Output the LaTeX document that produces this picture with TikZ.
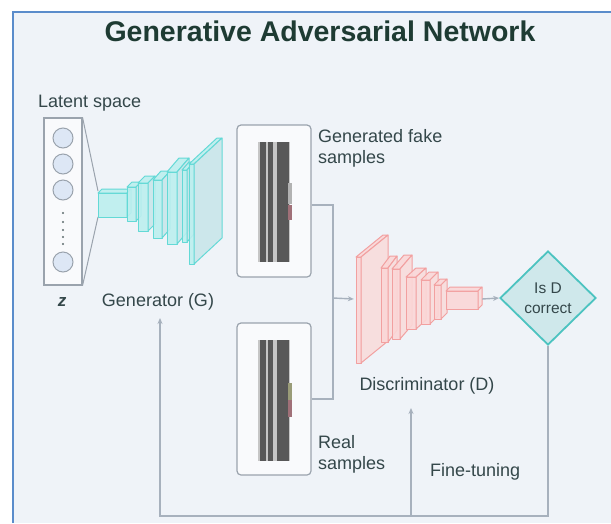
\documentclass[tikz,border=0pt]{standalone}
\usepackage{fontspec}
\setmainfont{Liberation Sans}
\usetikzlibrary{shapes.geometric,arrows.meta}

\definecolor{pagebg}{HTML}{EFF3F8}
\definecolor{frameblue}{HTML}{5A8CCB}
\definecolor{titlec}{HTML}{1E3B33}
\definecolor{labelc}{HTML}{34474A}
\definecolor{wire}{HTML}{A7B1BD}
\definecolor{boxline}{HTML}{9AA3AD}
\definecolor{nodefill}{HTML}{DDE7F5}
\definecolor{cyanline}{HTML}{63D9D6}
\definecolor{cyanfill}{HTML}{BDEFEF}
\definecolor{cyanside}{HTML}{C9E6EA}
\definecolor{pinkline}{HTML}{F2A0A0}
\definecolor{pinkfill}{HTML}{FBD7D7}
\definecolor{pinkside}{HTML}{F8DCDC}
\definecolor{decfill}{HTML}{CFE8EB}
\definecolor{decline}{HTML}{4CC3C0}
\definecolor{bardark}{HTML}{585858}
\definecolor{markpink}{HTML}{A07078}
\definecolor{markgreen}{HTML}{9A9C78}

\tikzset{
  lbl/.style={text=labelc, font=\fontsize{18}{21}\selectfont, inner sep=0pt},
  conn/.style={draw=wire, line width=1.4pt},
  arr/.style={conn, -{Stealth[length=6pt,width=5pt]}},
  sbox/.style={draw=boxline, fill=white!60!pagebg, line width=1.2pt, rounded corners=4pt, inner sep=0pt},
  gen/.style={draw=cyanline, fill=cyanfill, fill opacity=0.9, line width=1pt, line join=round},
  genside/.style={fill=cyanside},
  dis/.style={draw=pinkline, fill=pinkfill, fill opacity=0.9, line width=1pt, line join=round},
  disside/.style={fill=pinkside},
  bar/.style={fill=bardark, draw=none},
}

% one convolution layer drawn as a thin box:
% #1 x, #2 thickness, #3 height, #4 centre y, #5 depth dx, #6 depth dy, #7 style, #8 side style
\newcommand\netlayer[8]{%
  \draw[#7] (#1,{#4-#3/2}) rectangle ({#1+#2},{#4+#3/2});
  \draw[#7] (#1,{#4-#3/2}) -- ({#1+#5},{#4-#3/2-#6}) -- ({#1+#2+#5},{#4-#3/2-#6})
            -- ({#1+#2},{#4-#3/2}) -- cycle;
  \draw[#7,#8] ({#1+#2},{#4-#3/2}) -- ({#1+#2+#5},{#4-#3/2-#6})
            -- ({#1+#2+#5},{#4+#3/2-#6}) -- ({#1+#2},{#4+#3/2}) -- cycle;
}

\begin{document}
\begin{tikzpicture}[x=1pt,y=-1pt]
\useasboundingbox (0,0) rectangle (611,523);
\fill[white] (0,0) rectangle (611,523);
\fill[pagebg] (12,11) rectangle (611,523);
\draw[frameblue, line width=2pt] (12.5,523) -- (12.5,11.5) -- (611,11.5);

% title
\node[text=titlec, font=\fontsize{28.5}{31}\selectfont\bfseries, inner sep=0pt] (title) at (320,31) {Generative Adversarial Network};

% latent space column
\node[lbl, anchor=west] (latlab) at (38,103) {Latent space};
\node[draw=boxline, fill=white!60!pagebg, line width=1.1pt, minimum width=38pt, minimum height=167pt, inner sep=0pt] (lat) at (63,201.5) {};
\foreach \yy [count=\i] in {138,164,190,262}
  \node[circle, draw=boxline, fill=nodefill, line width=1pt, minimum size=20pt, inner sep=0pt] (c\i) at (63,\yy) {};
\foreach \yy in {213,222,230,237,244}
  \fill[labelc!80] (63,\yy) circle (1.2pt);
\node[lbl, font=\fontsize{17}{20}\selectfont\itshape\bfseries] (zlab) at (62,302) {z};

% generator
\coordinate (gin1) at (98,191);
\coordinate (gin2) at (98,217);
\draw[boxline, line width=1pt] (lat.north east) -- (gin1);
\draw[boxline, line width=1pt] (lat.south east) -- (gin2);
\netlayer{98}{29}{24}{205}{4}{4}{gen}{genside}
\netlayer{127}{9}{34}{204}{5}{5}{gen}{genside}
\netlayer{138}{10}{48}{207}{7}{7}{gen}{genside}
\netlayer{153}{9}{58}{209}{8}{9}{gen}{genside}
\netlayer{167}{10}{72}{208}{12}{14}{gen}{genside}
\netlayer{182}{5}{72}{206}{7}{8}{gen}{genside}
\netlayer{189}{5}{100}{214}{28}{26}{gen}{genside}
\node[lbl] (glab) at (158,302) {Generator (G)};

% sample boxes
\node[sbox, minimum width=74pt, minimum height=152pt] (fake) at (274,201) {};
\node[sbox, minimum width=74pt, minimum height=152pt] (real) at (274,399) {};
\foreach \top/\bot in {142/262, 340/461} {
  \fill[gray!45] (258,\top) rectangle (290,\bot);
  \fill[bar] (260,\top) rectangle (266,\bot);
  \fill[bar] (267.5,\top) rectangle (273,\bot);
  \fill[bar] (277,\top) rectangle (289,\bot);
}
\fill[gray!60] (288,183) rectangle (292,204);
\fill[markpink] (288,205) rectangle (292,220);
\fill[markgreen] (288,383) rectangle (292,400);
\fill[markpink] (288,400) rectangle (292,417);
\node[lbl, anchor=west, align=left] (fakelab) at (318,148) {Generated fake\\samples};
\node[lbl, anchor=west, align=left] (reallab) at (318,454) {Real\\samples};

% discriminator
\node[inner sep=0pt, minimum width=128pt, minimum height=128pt] (disc) at (418,299) {};
\netlayer{356}{5}{106}{310}{27}{22}{dis}{disside}
\netlayer{381}{7}{74}{305}{9}{12}{dis}{disside}
\netlayer{392}{8}{70}{304}{12}{14}{dis}{disside}
\netlayer{406}{10}{52}{303}{10}{9}{dis}{disside}
\netlayer{421}{9}{44}{302}{8}{8}{dis}{disside}
\netlayer{434}{7}{34}{302}{6}{6}{dis}{disside}
\netlayer{446}{32}{18}{300}{4}{4}{dis}{disside}
\node[lbl] (dlab) at (427,386) {Discriminator (D)};

% decision
\node[diamond, draw=decline, fill=decfill, line width=1.8pt, minimum width=96pt, minimum height=94pt,
      inner sep=0pt, align=center, text=labelc, font=\fontsize{15.5}{20}\selectfont] (dec) at (548,298) {Is D\\correct};

% data flow
\coordinate (j) at (333,298);
\draw[conn] ([yshift=-4pt]fake.east) -| (j);
\draw[conn] (real.east) -| (j);
\draw[arr] (j) -- (disc.west);
\draw[arr] (disc.east) -- (dec.west);

% feedback
\coordinate (gtip) at (160,318);
\coordinate (dtip) at (411,408);
\coordinate (base) at (0,516);
\draw[arr] (dec.south) |- (gtip |- base) -- (gtip);
\draw[arr] (dtip |- base) -- (dtip);
\node[lbl, anchor=west] (ftlab) at (430,472) {Fine-tuning};
\end{tikzpicture}
\end{document}
